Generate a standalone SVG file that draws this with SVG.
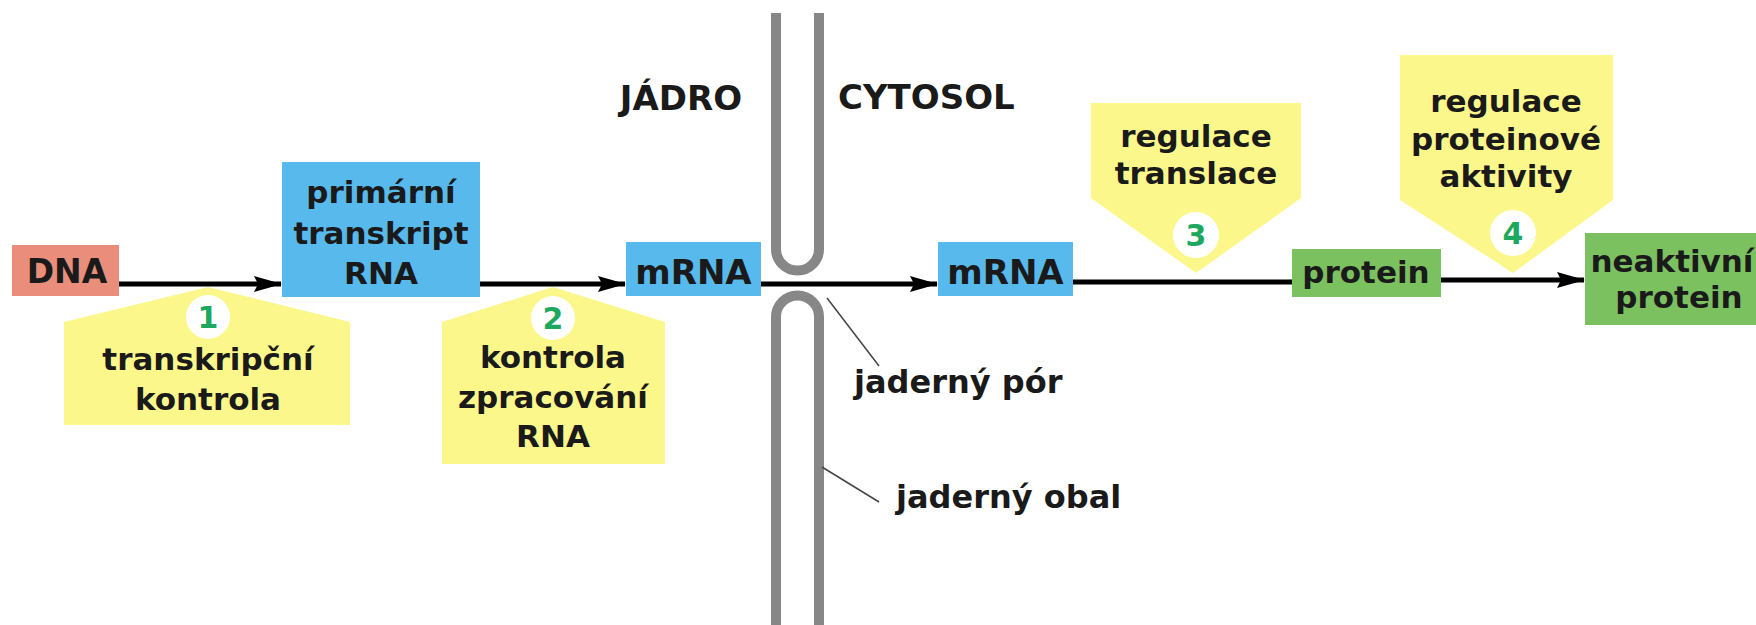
<svg xmlns="http://www.w3.org/2000/svg" width="1756" height="625" viewBox="0 0 1756 625">
<style>
text{font-family:"DejaVu Sans","Liberation Sans",sans-serif;font-weight:bold;fill:#1a1a1a;text-anchor:middle}
.t31{font-size:31px}
.t34{font-size:34px}
.lbl{font-size:32px;text-anchor:start}
.num{font-size:30px;fill:#1ea85f}
.call{fill:#fbf78b}
.circ{fill:#ffffff}
.blue{fill:#57b9ec}
.green{fill:#7cc160}
.env{fill:none;stroke:#878787;stroke-width:10}
.conn{stroke:#000;stroke-width:5;fill:none}
.lead{stroke:#444;stroke-width:1.5;fill:none}
</style>
<defs>
<marker id="ah" viewBox="0 0 28 16" refX="27" refY="8" markerWidth="28" markerHeight="16" markerUnits="userSpaceOnUse" orient="auto">
<path d="M0,0 L28,8 L0,16 L4,8 z" fill="#000"/>
</marker>
</defs>
<rect width="1756" height="625" fill="#fff"/>

<g id="envelope">
<path class="env" d="M776,13 V249 A21.5,21.5 0 0 0 819,249 V13"/>
<path class="env" d="M776,625 V317 A21.5,21.5 0 0 1 819,317 V625"/>
</g>

<g id="labels">
<text class="t34" x="681" y="110">JÁDRO</text>
<text class="t34" x="838" y="109" style="text-anchor:start">CYTOSOL</text>
</g>

<g id="callout1">
<polygon class="call" points="208,287 350,322 350,425 64,425 64,322"/>
<circle class="circ" cx="208" cy="317" r="22"/>
<text class="num" x="208" y="328">1</text>
<text class="t31" x="208" y="370">transkripční</text>
<text class="t31" x="208" y="410">kontrola</text>
</g>

<g id="callout2">
<polygon class="call" points="553,287 665,322 665,464 442,464 442,322"/>
<circle class="circ" cx="553" cy="318" r="22"/>
<text class="num" x="553" y="329">2</text>
<text class="t31" x="553" y="368">kontrola</text>
<text class="t31" x="553" y="408">zpracování</text>
<text class="t31" x="553" y="447">RNA</text>
</g>

<g id="callout3">
<polygon class="call" points="1091,103 1301,103 1301,198 1196,273 1091,198"/>
<circle class="circ" cx="1196" cy="235" r="23"/>
<text class="num" x="1196" y="246">3</text>
<text class="t31" x="1196" y="147">regulace</text>
<text class="t31" x="1196" y="184">translace</text>
</g>

<g id="callout4">
<polygon class="call" points="1400,55 1613,55 1613,200 1513,273 1400,200"/>
<circle class="circ" cx="1513" cy="233" r="23"/>
<text class="num" x="1513" y="244">4</text>
<text class="t31" x="1506" y="112">regulace</text>
<text class="t31" x="1506" y="150">proteinové</text>
<text class="t31" x="1506" y="187">aktivity</text>
</g>

<g id="connectors">
<line class="conn" x1="119" y1="284" x2="281" y2="284" marker-end="url(#ah)"/>
<line class="conn" x1="480" y1="284" x2="625" y2="284" marker-end="url(#ah)"/>
<line class="conn" x1="761" y1="284" x2="937" y2="284" marker-end="url(#ah)"/>
<line class="conn" x1="1073" y1="282" x2="1292" y2="282"/>
<line class="conn" x1="1441" y1="280" x2="1584" y2="280" marker-end="url(#ah)"/>
<line class="lead" x1="827" y1="298" x2="879" y2="366"/>
<line class="lead" x1="822" y1="467" x2="879" y2="502"/>
</g>

<g id="dna">
<rect x="12" y="245" width="107" height="51" fill="#ea8e7b"/>
<text x="67" y="283" style="font-size:33px">DNA</text>
</g>

<g id="primary">
<rect class="blue" x="282" y="162" width="198" height="135"/>
<text class="t31" x="381" y="203">primární</text>
<text class="t31" x="381" y="244">transkript</text>
<text class="t31" x="381" y="284">RNA</text>
</g>

<g id="mrna1">
<rect class="blue" x="626" y="242" width="135" height="54"/>
<text class="t34" x="693.5" y="284">mRNA</text>
</g>

<g id="mrna2">
<rect class="blue" x="938" y="242" width="135" height="54"/>
<text class="t34" x="1005.5" y="284">mRNA</text>
</g>

<g id="protein">
<rect class="green" x="1292" y="249" width="149" height="48"/>
<text class="t31" x="1366" y="283">protein</text>
</g>

<g id="inactive">
<rect class="green" x="1585" y="233" width="171" height="92"/>
<text class="t31" x="1672" y="272">neaktivní</text>
<text class="t31" x="1679" y="308">protein</text>
</g>

<g id="pore-label">
<text class="lbl" x="854" y="393">jaderný pór</text>
</g>
<g id="envelope-label">
<text class="lbl" x="896" y="508">jaderný obal</text>
</g>
</svg>
